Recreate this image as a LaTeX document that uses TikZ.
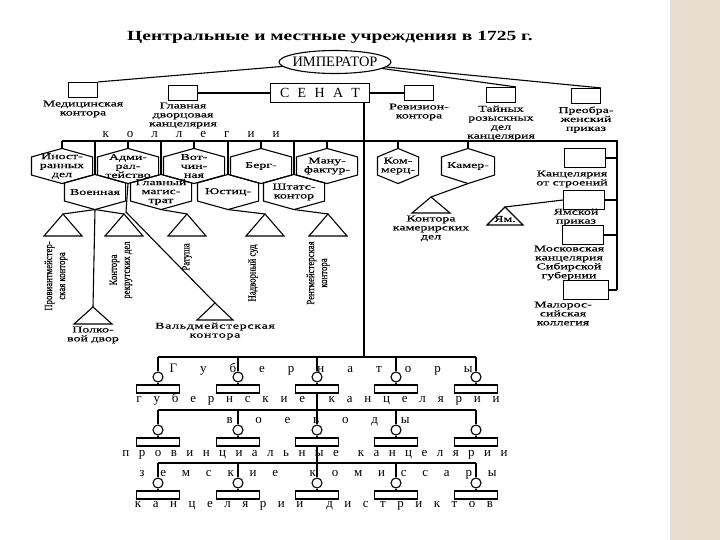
\documentclass[tikz,border=0pt]{standalone}
\usepackage{fontspec}
\setmainfont{Liberation Serif}
\newfontfamily\widefont{Liberation Serif}[FakeStretch=1.4]
\newfontfamily\lblfont{Liberation Serif}[FakeStretch=1.55, FakeBold=0.3]
\newfontfamily\tallfont{Liberation Serif}[FakeStretch=0.8, FakeBold=0.3]
\usetikzlibrary{positioning,shapes.geometric}
\definecolor{paper}{RGB}{230,221,206}
\tikzset{
  lbl/.style={font=\lblfont\fontsize{9}{9}\selectfont, align=center, inner sep=0pt},
  vlbl/.style={font=\tallfont\fontsize{11}{13}\selectfont, align=center, inner sep=0pt, rotate=90},
  hexa/.style={lbl, minimum width=60bp, minimum height=34bp},
  ubox/.style={draw, minimum width=29bp, minimum height=15bp, inner sep=0pt},
  rbox/.style={draw, minimum width=41bp, minimum height=19bp, inner sep=0pt},
  ring/.style={draw, fill=white, circle, minimum size=10bp, inner sep=0pt},
  bar/.style={draw, fill=white, minimum width=43bp, minimum height=8bp, inner sep=0pt},
  spaced/.style={font=\fontsize{13}{13}\selectfont, inner sep=0pt, anchor=base},
}
% hexagon round a (rectangular) node
\newcommand\hexline[1]{\draw (#1.north) -- ([yshift=-8.5bp]#1.north east) -- ([yshift=8.5bp]#1.south east) -- (#1.south) -- ([yshift=8.5bp]#1.south west) -- ([yshift=-8.5bp]#1.north west) -- cycle;}

\begin{document}
\begin{tikzpicture}[x=1bp, y=-1bp, line width=1.1bp]
\useasboundingbox (0,0) rectangle (720,540);
\fill [paper] (670,0) rectangle (720,540);
\draw [gray!25, line width=0.6bp] (670,0) -- (670,540);

% title and the top
\node [font=\widefont\bfseries\fontsize{14}{14}\selectfont, inner sep=0pt] (title) at (330,37) {Центральные и местные учреждения в 1725 г.};
\node [draw, ellipse, minimum width=112bp, minimum height=23bp, inner sep=0pt, font=\fontsize{14.5}{14.5}\selectfont] (imp) at (335,62) {\makebox[0pt]{ИМПЕРАТОР}};
\node [draw, minimum width=99bp, minimum height=19bp, inner sep=0pt, font=\fontsize{14}{14}\selectfont] (sen) at (320,93) {\makebox[80bp]{С\hfill Е\hfill Н\hfill А\hfill Т}};
\node [ubox] (med) at (83,90) {};
\node [ubox] (glav) at (183,93) {};
\node [ubox] (rev) at (419,93) {};
\node [ubox] (tain) at (501,95) {};
\node [ubox] (preo) at (586,96) {};
\node [lbl, below=2bp of med] (medtxt) {Медицинская\\контора};
\node [lbl, below=1bp of glav] (glavtxt) {Главная\\дворцовая\\канцелярия};
\node [lbl, below=2bp of rev] (revtxt) {Ревизион-\\контора};
\node [lbl, below=2bp of tain] (taintxt) {Тайных\\розыскных\\дел\\канцелярия};
\node [lbl, below=2bp of preo] (preotxt) {Преобра-\\женский\\приказ};
\draw (imp) -- (med.north east);
\draw (imp) -- (tain.north east);
\draw (imp) -- (preo.north east);
\draw (glav) -- (sen);
\draw (sen) -- (rev);

% collegia
\coordinate (kolL) at (62,141);
\coordinate (kolR) at (617,141);
\coordinate (kolB) at (617,290);
\coordinate (gubjoin) at (364,357);
\draw (sen.south -| gubjoin) -- (gubjoin);
\draw (kolL) -- (kolR) -- (kolB);
\node [spaced] (koltxt) at (191,138) {\makebox[177bp]{к\hfill о\hfill л\hfill л\hfill е\hfill г\hfill и\hfill и}};

\node [hexa] (inos) at (62,166) {Иност-\\ранных\\дел};
\node [hexa] (adm) at (128,166) {Адми-\\рал-\\тейство};
\node [hexa] (votch) at (194,166) {Вот-\\чин-\\ная};
\node [hexa] (berg) at (261,166) {Берг-};
\node [hexa] (manuf) at (327,166) {Ману-\\фактур-};
\node [hexa] (voen) at (95,192) {Военная};
\node [hexa] (glmag) at (161,192) {Главный\\магис-\\трат};
\node [hexa] (just) at (228,192) {Юстиц-};
\node [hexa] (shtat) at (294,192) {Штатс-\\контор};
\node [hexa, minimum width=40bp] (komm) at (398,166) {Ком-\\мерц-};
\node [hexa, minimum width=52bp] (kamer) at (468,166) {Камер-};
\hexline{inos}
\hexline{adm}
\hexline{votch}
\hexline{berg}
\hexline{manuf}
\hexline{voen}
\hexline{glmag}
\hexline{just}
\hexline{shtat}
\hexline{komm}
\hexline{kamer}
\draw (inos.north) -- (inos.north |- kolL);
\draw (adm.north) -- (adm.north |- kolL);
\draw (votch.north) -- (votch.north |- kolL);
\draw (berg.north) -- (berg.north |- kolL);
\draw (manuf.north) -- (manuf.north |- kolL);
\draw (voen.north) -- (voen.north |- kolL);
\draw (glmag.north) -- (glmag.north |- kolL);
\draw (just.north) -- (just.north |- kolL);
\draw (shtat.north) -- (shtat.north |- kolL);
\draw (komm.north) -- (komm.north |- kolL);
\draw (kamer.north) -- (kamer.north |- kolL);

% offices under the collegia
\coordinate (tprov) at (63,214);
\coordinate (trekr) at (124,214);
\coordinate (trat) at (187,214);
\coordinate (tnadv) at (265,214);
\coordinate (trent) at (328,214);
\coordinate (tpolk) at (93,307);
\coordinate (tvald) at (215,303);
\coordinate (valdbend) at (126,212);
\coordinate (tkam) at (431,197);
\coordinate (tyam) at (505,207);
\draw (tprov) -- ++(-19,22) -- ++(38,0) -- cycle;
\draw (trekr) -- ++(-19,22) -- ++(38,0) -- cycle;
\draw (trat) -- ++(-19,22) -- ++(38,0) -- cycle;
\draw (tnadv) -- ++(-19,22) -- ++(38,0) -- cycle;
\draw (trent) -- ++(-19,22) -- ++(38,0) -- cycle;
\draw (tpolk) -- ++(-19,17) -- ++(38,0) -- cycle;
\draw (tvald) -- ++(-18,17) -- ++(36,0) -- cycle;
\draw (tkam) -- ++(-19,16) -- ++(38,0) -- cycle;
\draw (tyam) -- ++(-18,18) -- ++(36,0) -- cycle;
\draw (voen.south) -- (tprov);
\draw (voen.south) -- (trekr);
\draw (voen.south) -- (tpolk);
\draw (adm.south) -- (valdbend) -- (tvald);
\draw (glmag.south) -- (trat);
\draw (just.south) -- (tnadv);
\draw (shtat.south) -- (trent);
\draw (kamer.south) -- (tkam);
\node [vlbl] (provtxt) at (56,276) {Провиантмейстер-\\ская контора};
\node [vlbl] (rekrtxt) at (121,270) {Контора\\рекрутских дел};
\node [vlbl] (rattxt) at (187,257) {Ратуша};
\node [vlbl] (nadvtxt) at (253,273) {Надворный суд};
\node [vlbl] (renttxt) at (318,273) {Рентмейстерская\\контора};
\node [lbl, anchor=north] (polktxt) at (93,326) {Полко-\\вой двор};
\node [lbl, anchor=north, font=\lblfont\fontsize{9}{9}\selectfont\addfontfeature{LetterSpace=8}] (valdtxt) at (215,322) {Вальдмейстерская\\контора};
\node [lbl, anchor=north] (kamtxt) at (431,215) {Контора\\камерирских\\дел};
\node [lbl] (yamtxt) at (505,219) {Ям.};

% offices on the right
\node [rbox] (kstr) at (585,158) {};
\node [rbox] (yamb) at (584,200) {};
\node [rbox] (mosk) at (583,235) {};
\node [rbox, minimum width=45bp] (malo) at (586,290) {};
\node [lbl, anchor=north] (kstrtxt) at (572,170) {Канцелярия\\от строений};
\node [lbl, anchor=north] (yambtxt) at (576,208) {Ямской\\приказ};
\node [lbl, anchor=north] (mosktxt) at (569,245) {Московская\\канцелярия\\Сибирской\\губернии};
\node [lbl, anchor=north] (malotxt) at (563,301) {Малорос-\\сийская\\коллегия};
\draw (kstr.east) -- (kstr.east -| kolR);
\draw (yamb.east) -- (yamb.east -| kolR);
\draw (mosk.east) -- (mosk.east -| kolR);
\draw (malo.east) -- (kolB);
\draw (yamb.west) -- (tyam);

% governors
\coordinate (gb1) at (158,357);
\coordinate (gb2) at (238,357);
\coordinate (gb3) at (317,357);
\coordinate (gb4) at (396,357);
\coordinate (gb5) at (476,357);
\node [ring] (gc1) at (158,377) {};
\node [ring] (gc2) at (238,377) {};
\node [ring] (gc3) at (317,377) {};
\node [ring] (gc4) at (396,377) {};
\node [ring] (gc5) at (476,377) {};
\node [bar] (gr1) at (158,389) {};
\node [bar] (gr2) at (238,389) {};
\node [bar] (gr3) at (317,389) {};
\node [bar] (gr4) at (396,389) {};
\node [bar] (gr5) at (476,389) {};
\draw (gb1) -- (gb5);
\draw (gb1) -- (gc1) -- (gr1);
\draw (gb2) -- (gc2) -- (gr2);
\draw (gb3) -- (gc3) -- (gr3);
\draw (gb4) -- (gc4) -- (gr4);
\draw (gb5) -- (gc5) -- (gr5);
\node [spaced] (gubtxt) at (321,372) {\makebox[303bp]{Г\hfill у\hfill б\hfill е\hfill р\hfill н\hfill а\hfill т\hfill о\hfill р\hfill ы}};
\node [spaced] (gubkantxt) at (318,402) {\makebox[363bp]{г\hfill у\hfill б\hfill е\hfill р\hfill н\hfill с\hfill к\hfill и\hfill е\hfill\hfill к\hfill а\hfill н\hfill ц\hfill е\hfill л\hfill я\hfill р\hfill и\hfill и}};

% voevody
\coordinate (vb1) at (158,410);
\coordinate (vb2) at (238,410);
\coordinate (vb3) at (317,410);
\coordinate (vb4) at (396,410);
\coordinate (vb5) at (476,410);
\node [ring] (vc1) at (158,430) {};
\node [ring] (vc2) at (238,430) {};
\node [ring] (vc3) at (317,430) {};
\node [ring] (vc4) at (396,430) {};
\node [ring] (vc5) at (476,430) {};
\node [bar] (vr1) at (158,442) {};
\node [bar] (vr2) at (238,442) {};
\node [bar] (vr3) at (317,442) {};
\node [bar] (vr4) at (396,442) {};
\node [bar] (vr5) at (476,442) {};
\draw (gr3) -- (vb3);
\draw (vb1) -- (vb5);
\draw (vb1) -- (vc1) -- (vr1);
\draw (vb2) -- (vc2) -- (vr2);
\draw (vb3) -- (vc3) -- (vr3);
\draw (vb4) -- (vc4) -- (vr4);
\draw (vb5) -- (vc5) -- (vr5);
\node [spaced] (voevtxt) at (318,423) {\makebox[183bp]{в\hfill о\hfill е\hfill в\hfill о\hfill д\hfill ы}};
\node [spaced] (provkantxt) at (315,456) {\makebox[385bp]{п\hfill р\hfill о\hfill в\hfill и\hfill н\hfill ц\hfill и\hfill а\hfill л\hfill ь\hfill н\hfill ы\hfill е\hfill\hfill к\hfill а\hfill н\hfill ц\hfill е\hfill л\hfill я\hfill р\hfill и\hfill и}};

% zemskie komissary
\coordinate (zb1) at (158,463);
\coordinate (zb2) at (238,463);
\coordinate (zb3) at (317,463);
\coordinate (zb4) at (396,463);
\coordinate (zb5) at (476,463);
\node [ring] (zc1) at (158,483) {};
\node [ring] (zc2) at (238,483) {};
\node [ring] (zc3) at (317,483) {};
\node [ring] (zc4) at (396,483) {};
\node [ring] (zc5) at (476,483) {};
\node [bar] (zr1) at (158,495) {};
\node [bar] (zr2) at (238,495) {};
\node [bar] (zr3) at (317,495) {};
\node [bar] (zr4) at (396,495) {};
\node [bar] (zr5) at (476,495) {};
\draw (vr3) -- (zb3);
\draw (zb1) -- (zb5);
\draw (zb1) -- (zc1) -- (zr1);
\draw (zb2) -- (zc2) -- (zr2);
\draw (zb3) -- (zc3) -- (zr3);
\draw (zb4) -- (zc4) -- (zr4);
\draw (zb5) -- (zc5) -- (zr5);
\node [spaced] (zemtxt) at (318,476) {\makebox[357bp]{з\hfill е\hfill м\hfill с\hfill к\hfill и\hfill е\hfill\hfill к\hfill о\hfill м\hfill и\hfill с\hfill с\hfill а\hfill р\hfill ы}};
\node [spaced] (distrtxt) at (314,507) {\makebox[358bp]{к\hfill а\hfill н\hfill ц\hfill е\hfill л\hfill я\hfill р\hfill и\hfill и\hfill\hfill д\hfill и\hfill с\hfill т\hfill р\hfill и\hfill к\hfill т\hfill о\hfill в}};
\end{tikzpicture}
\end{document}
